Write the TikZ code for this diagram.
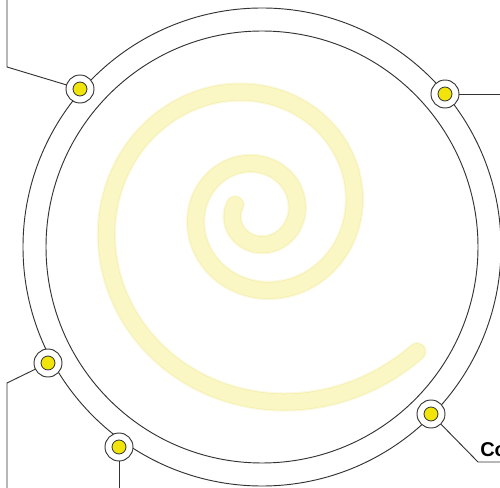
\documentclass[tikz,border=0pt]{standalone}
\usepackage{fontspec}
\setsansfont{Liberation Sans}
\usepackage{tikz}
\usetikzlibrary{positioning, calc}
\definecolor{ringline}{RGB}{51,51,51}
\definecolor{portyellow}{RGB}{240,228,10}
\definecolor{spiralglow}{RGB}{242,236,165}
\definecolor{spiraledge}{RGB}{245,240,172}
\definecolor{spiralcore}{RGB}{251,247,196}

\begin{document}
\begin{tikzpicture}[x=0.75pt, y=-0.75pt,
  ring/.style={draw=ringline, line width=0.7pt},
  wire/.style={draw=ringline, line width=0.7pt},
  port/.style={circle, draw=ringline, line width=0.7pt, fill=white, minimum size=21pt, inner sep=0pt},
  portdot/.style={circle, draw=ringline, line width=0.6pt, fill=portyellow, minimum size=10.5pt, inner sep=0pt}]
  \useasboundingbox (0,0) rectangle (500,488);
  % glowing spiral
  \foreach \w/\c/\o in {14.6pt/spiralglow/0.3, 12.8pt/spiraledge/1, 11.6pt/spiralcore/1}
    \draw[line width=\w, color=\c, opacity=\o, line cap=round]
      plot[smooth, samples=320, domain=-200:679]
      ({257.6+31.4*pow(1.25,(\x+90)/90)*cos(\x)}, {213-31.4*pow(1.25,(\x+90)/90)*sin(\x)});
  % rings
  \coordinate (ctr) at (262,247);
  \draw[ring] (ctr) circle (239);
  \draw[ring] (ctr) circle (216);
  % ports on the outer ring
  \node[port] (p1) at (80,89) {};
  \node[port] (p2) at (445,94) {};
  \node[port] (p3) at (431,414) {};
  \node[port] (p4) at (48,363) {};
  \node[port] (p5) at (119,447) {};
  \foreach \p in {p1,p2,p3,p4,p5}
    \node[portdot] at (\p) {};
  % leads
  \coordinate (k1) at (7,67);
  \coordinate (e1) at (7,0);
  \coordinate (e2) at (500,94);
  \coordinate (k3) at (478,462);
  \coordinate (e3) at (500,462);
  \coordinate (k4) at (7,383);
  \coordinate (e4) at (7,488);
  \coordinate (e5) at (119,488);
  \draw[wire] (p1) -- (k1) -- (e1);
  \draw[wire] (p2) -- (e2);
  \draw[wire] (p3) -- (k3) -- (e3);
  \draw[wire] (p4) -- (k4) -- (e4);
  \draw[wire] (p5) -- (e5);
  \node[anchor=base west, inner sep=0pt, font=\sffamily\bfseries\fontsize{15}{18}\selectfont]
    (lbl3) at (480,456) {Co};
\end{tikzpicture}
\end{document}
